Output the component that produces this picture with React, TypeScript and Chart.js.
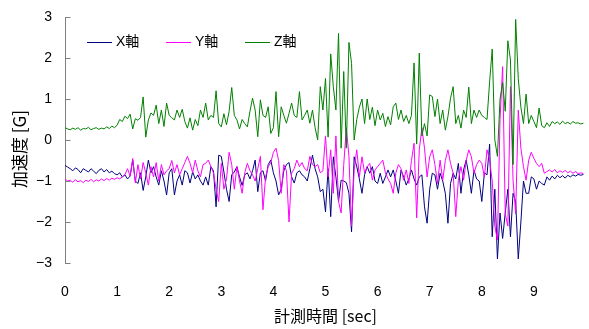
import React, { useEffect, useRef } from "react";
import { Chart, registerables } from "chart.js";

Chart.register(...registerables);

// sample interval [sec]
const SAMPLE_STEP = 0.05;

// X軸 acceleration [G], one row per second (20 samples each)
const xAxisValues = [
  -0.62, -0.66, -0.70, -0.75, -0.68, -0.72, -0.80, -0.70, -0.74, -0.78, -0.70, -0.76, -0.82, -0.74, -0.70, -0.78, -0.72, -0.80, -0.76, -0.82,
  -0.85, -0.80, -0.90, -0.85, -0.95, -0.88, -0.49, -1.00, -1.06, -0.80, -1.23, -0.90, -0.49, -0.80, -0.65, -0.90, -1.10, -0.75, -1.00, -1.34,
  -0.80, -0.70, -1.34, -1.00, -0.85, -1.10, -0.75, -0.80, -1.05, -0.78, -0.95, -0.85, -1.00, -1.10, -0.90, -1.10, -0.65, -0.75, -1.63, -0.37,
  -0.40, -0.78, -1.20, -1.50, -0.85, -0.78, -0.65, -0.90, -1.11, -0.85, -0.80, -0.95, -0.75, -0.49, -1.26, -0.80, -0.75, -1.00, -0.60, -0.49,
  -0.80, -1.00, -1.34, -1.20, -0.75, -0.60, -0.55, -0.90, -1.05, -0.80, -0.75, -0.85, -0.90, -1.00, -0.70, -0.37, -0.70, -0.90, -1.26, -1.20,
  -1.75, -0.70, -1.87, -0.41, -0.90, -1.50, -0.98, -1.00, -1.04, -1.30, -2.24, -0.41, -0.65, -0.95, -1.30, -0.85, -0.65, -0.81, -0.65, -1.00,
  -1.06, -0.81, -1.06, -0.90, -0.73, -0.90, -0.73, -1.00, -1.30, -0.73, -0.90, -1.10, -0.95, -0.73, -0.95, -1.10, -0.90, -0.85, -1.63, -2.03,
  -1.20, -0.81, -0.85, -1.20, -0.81, -1.00, -1.30, -2.03, -1.06, -0.81, -0.95, -0.57, -1.30, -0.73, -0.49, -0.85, -1.30, -0.73, -0.95, -1.00,
  -1.50, -0.80, -0.85, -0.10, -2.36, -1.20, -2.90, -1.78, -2.40, -1.78, -1.20, -2.36, -1.30, -1.50, -2.90, -2.00, -1.00, -1.30, -1.30, -0.90,
  -0.95, -1.20, -1.00, -1.06, -1.10, -0.90, -0.98, -0.88, -0.95, -0.86, -0.92, -0.87, -0.93, -0.86, -0.90, -0.85, -0.88, -0.84, -0.86, -0.84,
];

// Y軸 acceleration [G]
const yAxisValues = [
  -0.95, -1.00, -0.98, -1.03, -0.97, -1.02, -0.99, -1.04, -0.98, -1.01, -0.96, -1.02, -0.97, -1.00, -0.95, -0.99, -0.94, -0.98, -0.93, -0.96,
  -0.92, -0.95, -0.90, -0.85, -0.70, -0.88, -0.45, -1.05, -0.60, -0.95, -0.55, -0.80, -1.10, -0.65, -0.90, -0.55, -1.00, -0.60, -0.85, -0.75,
  -0.70, -0.50, -0.80, -0.60, -0.85, -0.70, -0.55, -0.40, -0.57, -0.80, -0.49, -0.75, -0.90, -0.60, -0.57, -0.49, -0.65, -0.80, -1.20, -1.50,
  -0.57, -1.20, -0.95, -0.30, -0.60, -1.20, -0.65, -1.00, -1.30, -0.80, -0.57, -0.75, -0.85, -1.00, -0.70, -0.40, -1.70, -0.90, -0.65, -0.55,
  -0.30, -0.20, -0.50, -1.30, -0.60, -0.75, -2.00, -0.81, -0.70, -0.49, -0.65, -0.55, -0.70, -0.75, -0.40, -0.60, -0.65, -0.60, -0.80, -0.75,
  0.10, -0.90, -0.24, -1.30, 0.10, -1.50, -1.78, -0.60, 0.30, -0.40, -2.10, -0.73, -0.24, -0.90, -0.41, -0.80, -0.65, -0.57, -0.98, -0.73,
  -0.65, -0.57, -0.49, -0.80, -0.95, -1.06, -1.30, -0.80, -0.60, -0.70, -0.98, -0.73, -1.06, -0.50, -0.08, -1.90, -0.24, 0.30, -0.20, -0.90,
  -0.41, -0.24, -0.60, -1.06, -0.49, -0.98, -0.50, -0.24, -0.57, -0.81, -1.87, -0.98, -0.65, -0.98, -0.50, -0.24, -0.41, -0.81, -0.60, -0.49,
  -0.57, -0.90, -0.24, -0.49, -1.00, -2.10, -2.44, 0.50, 1.79, -1.80, -2.10, 1.30, -0.98, -1.80, 0.73, -0.20, -0.65, -0.98, -0.49, -0.30,
  -0.45, -0.57, -0.65, -0.57, -0.81, -0.77, -0.73, -0.78, -0.72, -0.80, -0.75, -0.79, -0.74, -0.80, -0.76, -0.81, -0.77, -0.82, -0.80, -0.82,
];

// Z軸 acceleration [G]
const zAxisValues = [
  0.30, 0.27, 0.25, 0.29, 0.26, 0.30, 0.24, 0.28, 0.27, 0.31, 0.25, 0.28, 0.30, 0.26, 0.29, 0.27, 0.32, 0.28, 0.34, 0.30,
  0.36, 0.50, 0.45, 0.58, 0.52, 0.63, 0.27, 0.52, 0.48, 0.55, 1.05, 0.07, 0.49, 0.66, 0.60, 0.85, 0.40, 0.73, 0.33, 0.90,
  0.60, 0.54, 0.49, 0.73, 0.55, 0.75, 0.45, 0.29, 0.54, 0.24, 0.50, 0.35, 0.73, 0.55, 0.90, 0.49, 0.60, 0.55, 1.20, 0.40,
  0.32, 0.64, 0.37, 0.70, 1.28, 0.60, 0.49, 0.27, 0.50, 0.40, 0.32, 0.70, 1.02, 0.73, 0.08, 0.98, 0.60, 0.55, 0.81, 0.16,
  0.30, 1.18, 0.08, 0.81, 0.60, 0.41, 0.65, 0.90, 0.60, 0.55, 1.18, 0.49, 0.60, 0.73, 0.41, 0.73, 0.30, 0.00, 1.30, 0.73,
  1.50, 0.07, 2.10, 1.30, 0.73, 2.60, -0.20, 1.67, -0.20, 2.38, 1.87, 0.00, 0.50, 0.80, 1.00, 0.40, 1.00, 0.50, 0.80, 0.35,
  0.73, 0.49, 0.65, 0.33, 0.57, 0.37, 0.81, 0.90, 0.50, 0.73, 0.45, 0.60, 0.40, 0.60, 1.88, -0.10, 2.12, 0.10, 0.40, 0.10,
  1.10, 1.06, 0.57, 1.00, 0.40, 0.73, 0.24, 0.57, 1.02, 1.30, 0.40, 0.60, 0.29, 0.73, 0.55, 1.29, 0.40, 0.73, 0.55, 0.73,
  0.60, 0.55, 0.50, 1.42, 2.22, 0.00, -0.40, 1.00, 1.40, 0.70, 2.42, 1.95, -0.60, 2.94, 1.50, 0.80, 0.40, 1.12, 0.40, 0.60,
  0.45, 0.30, 0.78, 0.35, 0.30, 0.42, 0.33, 0.45, 0.40, 0.44, 0.38, 0.46, 0.40, 0.43, 0.39, 0.45, 0.41, 0.42, 0.39, 0.41,
];

const seriesNames = ["X軸", "Y軸", "Z軸"];
const seriesColors = ["#000080", "#FF00FF", "#008000"];
const yTickValues = [3, 2, 1, 0, -1, -2, -3];
const xTickValues = [0, 1, 2, 3, 4, 5, 6, 7, 8, 9];
const yTitle = "加速度 [G]";
const xTitle = "計測時間 [sec]";

const LATIN = "'Liberation Sans', Arial, 'Noto Sans CJK JP', sans-serif";
const CJK = "'Noto Sans CJK JP', 'Liberation Sans', sans-serif";

function toPoints(values: number[]) {
  return values.map((v, i) => ({ x: +(i * SAMPLE_STEP).toFixed(2), y: v }));
}

const overlayPlugin = {
  id: "overlay",
  afterDraw(chart: any) {
    const { ctx, chartArea, scales } = chart;
    const y = scales.y;
    ctx.save();
    // inward tick marks on the y axis
    ctx.strokeStyle = "#808080";
    ctx.lineWidth = 1;
    const ax = Math.round(chartArea.left) + 0.5;
    yTickValues.forEach((t) => {
      const py = Math.round(y.getPixelForValue(t)) + 0.5;
      ctx.beginPath();
      ctx.moveTo(ax, py);
      ctx.lineTo(ax + 5, py);
      ctx.stroke();
    });
    // legend inside the plot area, aligned to the 2.4 G level
    const ly = Math.round(y.getPixelForValue(2.4)) + 0.5;
    ctx.font = "14px " + LATIN;
    ctx.textBaseline = "middle";
    ctx.textAlign = "left";
    seriesNames.forEach((name, i) => {
      const lx = chartArea.left + 22 + i * 79;
      ctx.strokeStyle = seriesColors[i];
      ctx.beginPath();
      ctx.moveTo(lx, ly);
      ctx.lineTo(lx + 25, ly);
      ctx.stroke();
      ctx.fillStyle = "#000";
      ctx.fillText(name, lx + 29, ly);
    });
    // rotated y-axis title, slightly below the plot centre as in the original
    ctx.translate(20, y.getPixelForValue(-0.22));
    ctx.rotate(-Math.PI / 2);
    ctx.font = "17px " + CJK;
    ctx.textAlign = "center";
    ctx.textBaseline = "middle";
    ctx.fillStyle = "#000";
    ctx.fillText(yTitle, 0, 0);
    ctx.restore();
  },
};

export default function App() {
  const canvasRef = useRef<HTMLCanvasElement>(null);

  useEffect(() => {
    if (!canvasRef.current) return;
    const datasets = [xAxisValues, yAxisValues, zAxisValues].map((vals, i) => ({
      label: seriesNames[i],
      data: toPoints(vals),
      borderColor: seriesColors[i],
      backgroundColor: seriesColors[i],
      borderWidth: 1,
      pointRadius: 0,
      tension: 0,
      fill: false,
      order: 3 - i,
    }));
    const chart = new Chart(canvasRef.current, {
      type: "line",
      data: { datasets },
      plugins: [overlayPlugin],
      options: {
        animation: false,
        responsive: false,
        events: [],
        layout: { padding: { left: 0, top: 17, right: 3, bottom: 0 } },
        plugins: { legend: { display: false }, tooltip: { enabled: false } },
        scales: {
          x: {
            type: "linear",
            min: 0,
            max: 10,
            afterFit: (s: any) => {
              s.height = 66;
              s.paddingLeft = 0;
              s.paddingRight = 0;
            },
            afterBuildTicks: (s: any) => {
              s.ticks = xTickValues.map((v) => ({ value: v }));
            },
            grid: { display: false, drawTicks: false },
            border: { display: false },
            ticks: {
              padding: 21,
              autoSkip: false,
              maxRotation: 0,
              color: "#000",
              font: { family: LATIN, size: 14 },
              callback: (v: any) => String(v),
            },
            title: {
              display: true,
              text: xTitle,
              color: "#000",
              font: { family: CJK, size: 16 },
              padding: { top: 0, bottom: 3 },
            },
          },
          y: {
            min: -3,
            max: 3,
            afterFit: (s: any) => {
              s.width = 65;
              s.paddingTop = 0;
              s.paddingBottom = 0;
            },
            afterBuildTicks: (s: any) => {
              s.ticks = yTickValues.map((v) => ({ value: v }));
            },
            grid: { display: false, drawTicks: false },
            border: { display: true, color: "#808080", width: 1 },
            ticks: {
              padding: 13,
              color: "#000",
              font: { family: LATIN, size: 14 },
              callback: (v: any) => String(v).replace("-", "\u2212"),
            },
            title: { display: false },
          },
        },
      },
    } as any);
    return () => chart.destroy();
  }, []);

  return (
    <div style={{ position: "absolute", left: 0, top: 0, width: 589, height: 329, background: "#fff" }}>
      <canvas ref={canvasRef} width={589} height={329} />
    </div>
  );
}
